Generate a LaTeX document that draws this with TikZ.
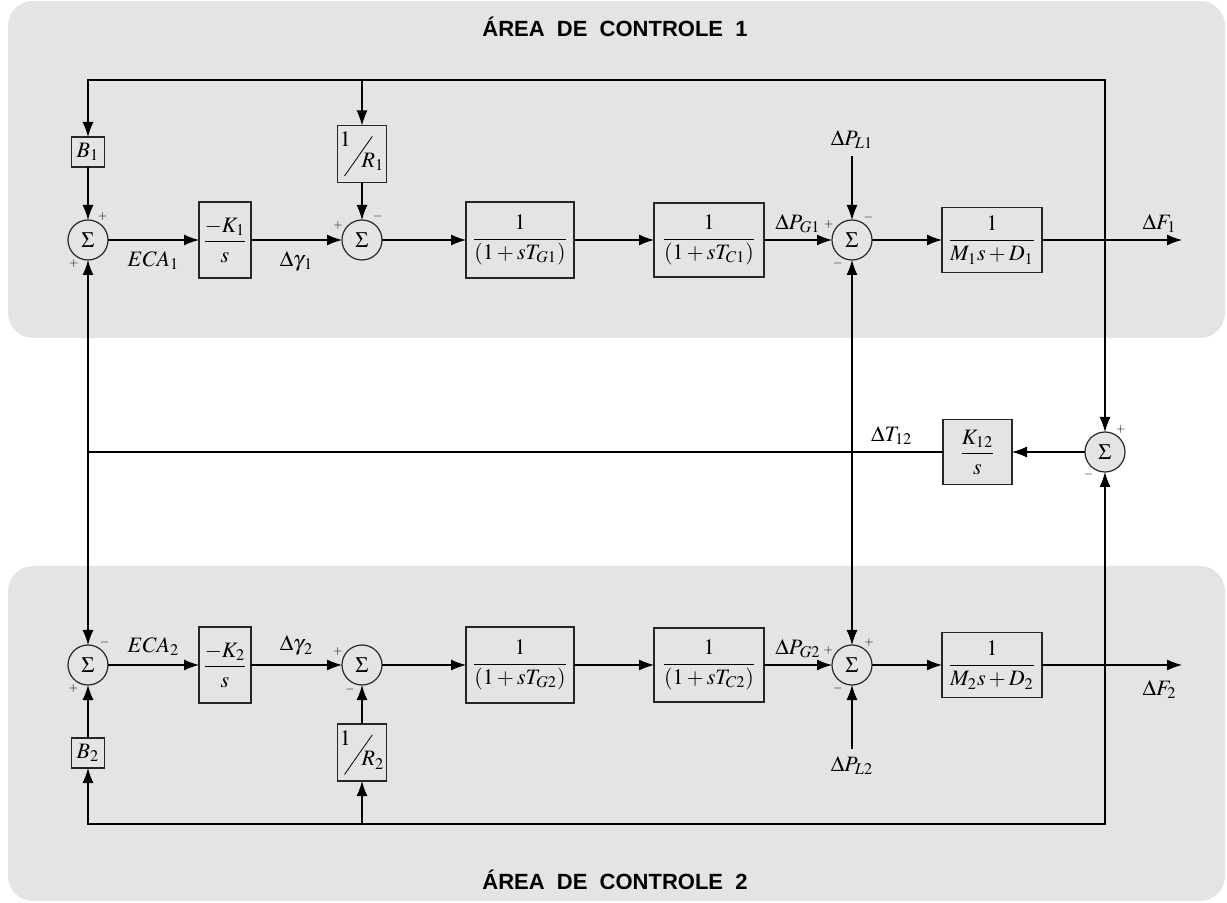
\documentclass[tikz,border=0pt]{standalone}
\usepackage{amsmath}
\usepackage{mathptmx}
\usepackage{fontspec}
\setmainfont{Liberation Serif}
\setsansfont{Liberation Sans}
\usepackage{graphicx}
\usetikzlibrary{arrows.meta, positioning, backgrounds}
\definecolor{areabg}{RGB}{228,228,228}
% slashed fraction for the droop blocks
\newcommand{\slfrac}[2]{\raisebox{0.55em}{$#1$}\kern-0.3em\raisebox{-0.8em}{\rotatebox{55}{\rule{2.2em}{0.4pt}}}\kern-0.5em\raisebox{-0.4em}{$#2$}}
\tikzset{
    blk/.style={rectangle, draw=black!85, line width=0.6pt, fill=areabg, inner sep=1pt, outer sep=0pt, align=center},
    sum/.style={circle, draw=black!85, line width=0.6pt, fill=areabg, minimum size=20pt, inner sep=0pt, outer sep=0pt},
    arrow/.style={line width=0.6pt, -{Latex[length=7.5pt,width=5.5pt]}},
    line/.style={line width=0.6pt},
    sgn/.style={font=\fontsize{6}{6}\selectfont, inner sep=0.5pt},
    title/.style={font=\sffamily\bfseries\fontsize{11}{13}\selectfont}
}
\begin{document}
\begin{tikzpicture}[x=0.5pt, y=-0.5pt, font=\fontsize{11}{13}\selectfont]
    \useasboundingbox (0,0) rectangle (1227,903);

    % --- Area 1 ---
    \node (ace_sum1) [sum, label={[sgn]64:$+$}, label={[sgn]246:$+$}] at (88,240) {$\Sigma$};
    \node (intk1) [blk, minimum width=26pt, minimum height=38pt, right=45.5pt of ace_sum1] {$\dfrac{-K_1}{s}$};
    \node (gov_sum1) [sum, label={[sgn]153:$+$}, label={[sgn]62:$-$}, right=45.5pt of intk1] {$\Sigma$};
    \node (gov1) [blk, minimum width=54pt, minimum height=38pt, right=42pt of gov_sum1] {$\dfrac{1}{\left(1+sT_{G1}\right)}$};
    \node (turb1) [blk, minimum width=55pt, minimum height=37pt, right=40pt of gov1] {$\dfrac{1}{\left(1+sT_{C1}\right)}$};
    \node (load_sum1) [sum, label={[sgn]149:$+$}, label={[sgn]59:$-$}, label={[sgn]246:$-$}, right=34pt of turb1] {$\Sigma$};
    \node (inertia1) [blk, minimum width=50pt, minimum height=32.5pt, right=35pt of load_sum1] {$\dfrac{1}{M_1s+D_1}$};
    \coordinate [right=31.5pt of inertia1] (f1);
    \coordinate [right=38.5pt of f1] (out1);
    \node (bias1) [blk, minimum width=16.5pt, minimum height=15pt, above=26.5pt of ace_sum1] {$B_1$};
    \node (droop1) [blk, minimum width=22.5pt, minimum height=28.5pt, above=18.75pt of gov_sum1] {\slfrac{1}{R_1}};
    \coordinate [above=28.5pt of bias1] (fb1);
    \node (pl1) [above=32pt of load_sum1] {$\Delta P_{L1}$};

    % --- Tie line ---
    \node (tie_sum) [sum, label={[sgn]61:$+$}, label={[sgn]239:$-$}, below=96pt of f1] {$\Sigma$};
    \node (tie_box) [blk, minimum width=34.5pt, minimum height=32.5pt, left=36.5pt of tie_sum] {$\dfrac{K_{12}}{s}$};

    % --- Area 2 ---
    \node (ace_sum2) [sum, label={[sgn]58:$-$}, label={[sgn]244:$+$}, below=192.5pt of ace_sum1] {$\Sigma$};
    \node (intk2) [blk, minimum width=26pt, minimum height=38pt, right=45.5pt of ace_sum2] {$\dfrac{-K_2}{s}$};
    \node (gov_sum2) [sum, label={[sgn]155:$+$}, label={[sgn]253:$-$}, right=45.5pt of intk2] {$\Sigma$};
    \node (gov2) [blk, minimum width=54pt, minimum height=38pt, right=42pt of gov_sum2] {$\dfrac{1}{\left(1+sT_{G2}\right)}$};
    \node (turb2) [blk, minimum width=55pt, minimum height=37pt, right=40pt of gov2] {$\dfrac{1}{\left(1+sT_{C2}\right)}$};
    \node (load_sum2) [sum, label={[sgn]152:$+$}, label={[sgn]57:$+$}, label={[sgn]246:$-$}, right=34pt of turb2] {$\Sigma$};
    \node (inertia2) [blk, minimum width=50pt, minimum height=32.5pt, right=35pt of load_sum2] {$\dfrac{1}{M_2s+D_2}$};
    \coordinate [right=31.5pt of inertia2] (f2);
    \coordinate [right=38.5pt of f2] (out2);
    \node (bias2) [blk, minimum width=16.5pt, minimum height=15pt, below=26.5pt of ace_sum2] {$B_2$};
    \node (droop2) [blk, minimum width=22.5pt, minimum height=28.5pt, below=19.5pt of gov_sum2] {\slfrac{1}{R_2}};
    \coordinate [below=28pt of bias2] (fb2);
    \node (pl2) [below=32pt of load_sum2] {$\Delta P_{L2}$};

    \coordinate (tjl) at (ace_sum1 |- tie_box);
    \coordinate (tjr) at (load_sum1 |- tie_box);

    % Area 1 connections
    \draw [arrow] (ace_sum1) -- node[below=2pt] {$ECA_1$} (intk1);
    \draw [arrow] (intk1) -- node[below=2pt] {$\Delta\gamma_{\,1}$} (gov_sum1);
    \draw [arrow] (gov_sum1) -- (gov1);
    \draw [arrow] (gov1) -- (turb1);
    \draw [arrow] (turb1) -- node[above] {$\Delta P_{G1}$} (load_sum1);
    \draw [arrow] (load_sum1) -- (inertia1);
    \draw [arrow] (inertia1) -- node[above, pos=0.84] {$\Delta F_1$} (out1);
    \draw [arrow] (pl1) -- (load_sum1);
    \draw [arrow] (f1) |- (fb1) -- (bias1);
    \draw [arrow] (droop1 |- fb1) -- (droop1);
    \draw [arrow] (bias1) -- (ace_sum1);
    \draw [arrow] (droop1) -- (gov_sum1);

    % Tie line connections
    \draw [arrow] (f1) -- (tie_sum);
    \draw [arrow] (f2) -- (tie_sum);
    \draw [arrow] (tie_sum) -- (tie_box);
    \draw [line] (tie_box) -- node[above, pos=0.06] {$\Delta T_{12}$} (tjl);
    \draw [arrow] (tjl) -- (ace_sum1);
    \draw [arrow] (tjl) -- (ace_sum2);
    \draw [arrow] (tjr) -- (load_sum1);
    \draw [arrow] (tjr) -- (load_sum2);

    % Area 2 connections
    \draw [arrow] (ace_sum2) -- node[above=1pt] {$ECA_2$} (intk2);
    \draw [arrow] (intk2) -- node[above=1pt] {$\Delta\gamma_{\,2}$} (gov_sum2);
    \draw [arrow] (gov_sum2) -- (gov2);
    \draw [arrow] (gov2) -- (turb2);
    \draw [arrow] (turb2) -- node[above] {$\Delta P_{G2}$} (load_sum2);
    \draw [arrow] (load_sum2) -- (inertia2);
    \draw [arrow] (inertia2) -- node[below=4pt, pos=0.84] {$\Delta F_2$} (out2);
    \draw [arrow] (pl2) -- (load_sum2);
    \draw [arrow] (f2) |- (fb2) -- (bias2);
    \draw [arrow] (droop2 |- fb2) -- (droop2);
    \draw [arrow] (bias2) -- (ace_sum2);
    \draw [arrow] (droop2) -- (gov_sum2);

    % --- Control areas ---
    \begin{scope}[on background layer]
        \fill [areabg, rounded corners=12.5pt] (8,1) rectangle (1225,338);
        \fill [areabg, rounded corners=12.5pt] (8,566) rectangle (1225,901);
    \end{scope}
    \node (title1) [title] at (615,27) {ÁREA\ \ DE\ \ CONTROLE\ \ 1};
    \node (title2) [title] at (615,880) {ÁREA\ \ DE\ \ CONTROLE\ \ 2};

\end{tikzpicture}
\end{document}
